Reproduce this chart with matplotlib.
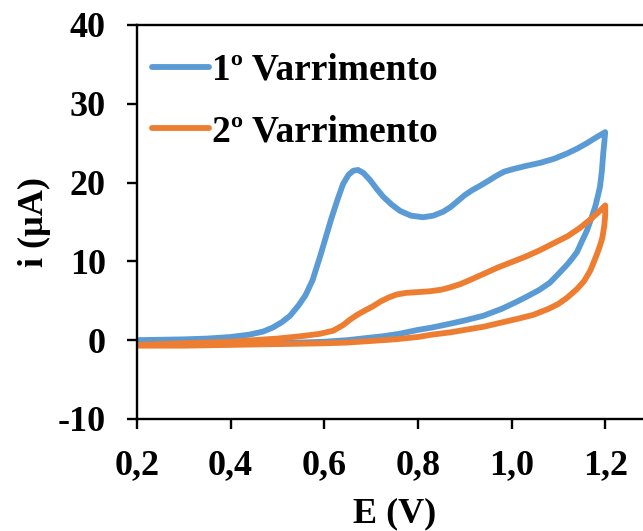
import matplotlib
matplotlib.use('Agg')
import matplotlib.pyplot as plt

# cyclic voltammetry, 1st and 2nd scan (forward sweep then reverse sweep)
e_scan1 = [0.20, 0.25, 0.30, 0.35, 0.40, 0.44, 0.47, 0.49, 0.51, 0.527, 0.545, 0.56,
           0.575, 0.591, 0.603, 0.615, 0.627, 0.640, 0.652, 0.662, 0.672, 0.684, 0.698,
           0.712, 0.726, 0.744, 0.762, 0.785, 0.811, 0.833, 0.854, 0.870, 0.884, 0.90,
           0.915, 0.933, 0.950, 0.969, 0.985, 1.003, 1.03, 1.061, 1.09, 1.119, 1.14,
           1.161, 1.18, 1.20,
           1.198, 1.196, 1.193, 1.189, 1.184, 1.179, 1.170, 1.161, 1.150, 1.14, 1.130,
           1.119, 1.100, 1.082, 1.060, 1.035, 1.012, 0.98, 0.94, 0.90, 0.87, 0.83, 0.80,
           0.76, 0.726, 0.68, 0.65, 0.60, 0.55, 0.48, 0.40, 0.30, 0.20]
i_scan1 = [0.0, 0.05, 0.1, 0.2, 0.4, 0.7, 1.1, 1.6, 2.3, 3.1, 4.4, 5.7,
           7.6, 10.6, 13.0, 15.4, 17.6, 19.8, 21.0, 21.5, 21.6, 21.2, 20.3,
           19.2, 18.2, 17.2, 16.4, 15.8, 15.6, 15.8, 16.3, 16.9, 17.6, 18.4,
           19.0, 19.6, 20.2, 20.9, 21.4, 21.7, 22.1, 22.5, 23.0, 23.7, 24.3,
           25.0, 25.7, 26.4,
           25.0, 23.8, 21.5, 19.5, 18.2, 17.0, 15.4, 13.9, 12.5, 11.2, 10.4,
           9.6, 8.4, 7.3, 6.4, 5.6, 4.9, 4.0, 3.1, 2.5, 2.1, 1.6, 1.3,
           0.8, 0.5, 0.2, 0.0, -0.2, -0.3, -0.4, -0.5, -0.5, -0.5]

e_scan2 = [0.20, 0.30, 0.40, 0.45, 0.50, 0.55, 0.59, 0.619, 0.64, 0.655, 0.67, 0.685,
           0.704, 0.72, 0.737, 0.755, 0.775, 0.80, 0.825, 0.85, 0.869, 0.89, 0.91, 0.94,
           0.97, 1.00, 1.03, 1.06, 1.09, 1.12, 1.145, 1.168, 1.185, 1.20,
           1.200, 1.198, 1.194, 1.189, 1.183, 1.175, 1.168, 1.155, 1.14, 1.119, 1.10,
           1.08, 1.046, 1.012, 0.976, 0.94, 0.90, 0.87, 0.83, 0.80, 0.75, 0.70, 0.65,
           0.60, 0.50, 0.40, 0.30, 0.20]
i_scan2 = [-0.6, -0.4, -0.2, 0.0, 0.2, 0.5, 0.8, 1.2, 1.9, 2.6, 3.2, 3.7,
           4.3, 4.9, 5.4, 5.8, 6.0, 6.1, 6.2, 6.4, 6.7, 7.1, 7.6, 8.4,
           9.2, 9.9, 10.6, 11.4, 12.3, 13.2, 14.2, 15.3, 16.2, 17.1,
           15.8, 14.5, 13.0, 12.0, 11.0, 9.8, 8.8, 7.5, 6.5, 5.4, 4.6,
           4.0, 3.2, 2.7, 2.2, 1.7, 1.3, 1.0, 0.7, 0.4, 0.1, -0.1, -0.3,
           -0.4, -0.5, -0.6, -0.7, -0.7]

labels = ['1º Varrimento', '2º Varrimento']
xticks = [0.2, 0.4, 0.6, 0.8, 1.0, 1.2]
xtick_labels = ['0,2', '0,4', '0,6', '0,8', '1,0', '1,2']
yticks = [-10, 0, 10, 20, 30, 40]

plt.rcParams['font.family'] = ['Liberation Serif', 'DejaVu Serif']
plt.rcParams['font.weight'] = 'bold'
plt.rcParams['axes.unicode_minus'] = False

fig = plt.figure(figsize=(6.43, 5.31), dpi=100)
ax = fig.add_axes([0.213, 0.211, 0.801, 0.742])

ax.plot(e_scan1, i_scan1, color='#5B9BD5', lw=4.2, solid_joinstyle='round',
        solid_capstyle='round', label=labels[0])
ax.plot(e_scan2, i_scan2, color='#ED7D31', lw=4.2, solid_joinstyle='round',
        solid_capstyle='round', label=labels[1])

ax.set_xlim(0.2, 1.3)
ax.set_ylim(-10, 40)
ax.set_xticks(xticks)
ax.set_xticklabels(xtick_labels)
ax.set_yticks(yticks)

for sp in ax.spines.values():
    sp.set_linewidth(1.7)
ax.tick_params(direction='out', length=7.5, width=1.7, labelsize=26)
ax.tick_params(axis='y', pad=15)
ax.tick_params(axis='x', pad=14)
for lab in ax.get_xticklabels() + ax.get_yticklabels():
    lab.set_fontweight('bold')

ax.set_xlabel('E (V)', fontsize=26, fontweight='bold', labelpad=11)
ax.set_ylabel('i (µA)', fontsize=26, fontweight='bold', labelpad=5)

ax.legend(loc='upper left', bbox_to_anchor=(0.001, 0.967), frameon=False,
          handlelength=1.5, handletextpad=0.08, labelspacing=0.7,
          borderaxespad=0, prop={'weight': 'bold', 'size': 27})

fig.savefig('out.png', dpi=100)
